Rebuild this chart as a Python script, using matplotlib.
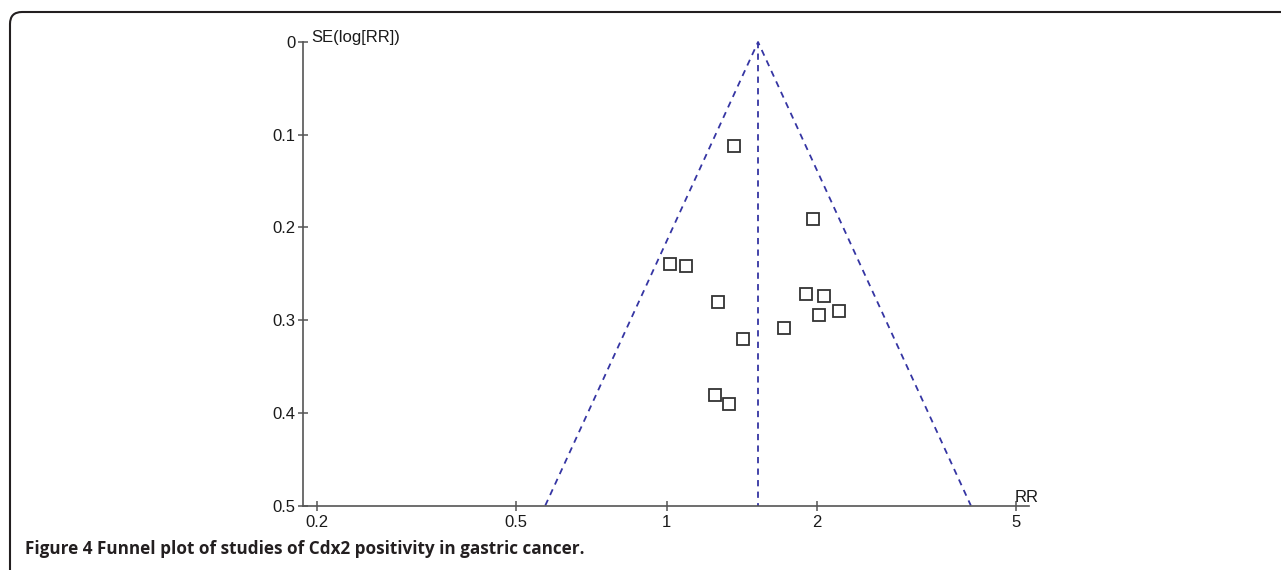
import numpy as np
import matplotlib
matplotlib.use('Agg')
import matplotlib.pyplot as plt
from matplotlib.path import Path
from matplotlib.patches import PathPatch
from matplotlib.transforms import IdentityTransform

# ---- data ----
rr = [1.365, 1.959, 1.015, 1.093, 1.268, 1.899, 2.067, 2.208, 2.020, 1.719, 1.421, 1.249, 1.334]
se = [0.112, 0.191, 0.239, 0.242, 0.280, 0.272, 0.274, 0.2905, 0.295, 0.308, 0.320, 0.381, 0.390]
pooled_rr = 1.523
se_max = 0.5
x_ticks = [0.2, 0.5, 1, 2, 5]
x_tick_labels = ['0.2', '0.5', '1', '2', '5']
y_ticks = [0, 0.1, 0.2, 0.3, 0.4, 0.5]
y_tick_labels = ['0', '0.1', '0.2', '0.3', '0.4', '0.5']
x_label = 'RR'
y_label = 'SE(log[RR])'
caption = 'Figure 4 Funnel plot of studies of Cdx2 positivity in gastric cancer.'

W, H = 1281, 570
dpi = 100
plt.rcParams['font.family'] = ['Liberation Sans', 'DejaVu Sans']
plt.rcParams['lines.scale_dashes'] = False

fig = plt.figure(figsize=(W / dpi, H / dpi), dpi=dpi)
fig.patch.set_facecolor('white')

# axes placement (pixels from top-left)
ax_l, ax_r, ax_t, ax_b = 302.7, 1029, 42, 505.5
ax = fig.add_axes([ax_l / W, 1 - ax_b / H, (ax_r - ax_l) / W, (ax_b - ax_t) / H])
ax.set_xscale('log')
ax.set_xlim(0.187, 5.305)
ax.set_ylim(0.5, 0)

axis_col = '#555555'
lab_col = '#1a1a1a'
fs = 12
for s in ['top', 'right']:
    ax.spines[s].set_visible(False)
for s in ['left', 'bottom']:
    ax.spines[s].set_color(axis_col)
    ax.spines[s].set_linewidth(1.2)

ax.set_xticks(x_ticks)
ax.set_xticklabels(x_tick_labels)
ax.xaxis.set_minor_locator(matplotlib.ticker.NullLocator())
ax.set_yticks(y_ticks)
ax.set_yticklabels(y_tick_labels)
ax.tick_params(axis='both', direction='inout', length=7, width=1.1, color=axis_col,
               labelsize=fs, labelcolor=lab_col, pad=1.5)
ax.tick_params(axis='x', pad=3)

# funnel
funnel_col = '#3535a3'
k = 1.96 * se_max
fx = [pooled_rr * np.exp(-k), pooled_rr, pooled_rr * np.exp(k)]
fy = [se_max, 0, se_max]
ax.plot(fx, fy, color=funnel_col, lw=1.3, dashes=(4.5, 3.8), clip_on=False)
ax.plot([pooled_rr, pooled_rr], [0, se_max], color=funnel_col, lw=1.3, dashes=(4.5, 3.8), clip_on=False)

# studies
ax.plot(rr, se, linestyle='none', marker='s', ms=8, mfc='white', mec='#333333', mew=1.3,
        clip_on=False, zorder=5)

# axis titles
ax.text(5.25, 0.5, x_label, ha='center', va='bottom', fontsize=fs, color=lab_col,
        transform=ax.transData)
ax.annotate(y_label, xy=(0, 1), xycoords='axes fraction', xytext=(6, 3), textcoords='offset points',
            ha='left', va='center', fontsize=fs, color=lab_col)

# frame (rounded top-left corner)
r = 12
x0, ytop = 10, H - 12
verts = [(x0, -20), (x0, ytop - r), (x0, ytop), (x0 + r, ytop), (W + 20, ytop)]
codes = [Path.MOVETO, Path.LINETO, Path.CURVE3, Path.CURVE3, Path.LINETO]
fig.patches.append(PathPatch(Path(verts, codes), transform=IdentityTransform(), fill=False,
                             lw=1.5, edgecolor='#231f20', figure=fig))

# caption
fig.text(25 / W, 1 - 554 / H, caption, ha='left', va='baseline', fontsize=12.3,
         fontweight='bold', family=['Open Sans', 'DejaVu Sans'], color='#231f20')

fig.savefig('out.png', dpi=dpi, facecolor='white')
